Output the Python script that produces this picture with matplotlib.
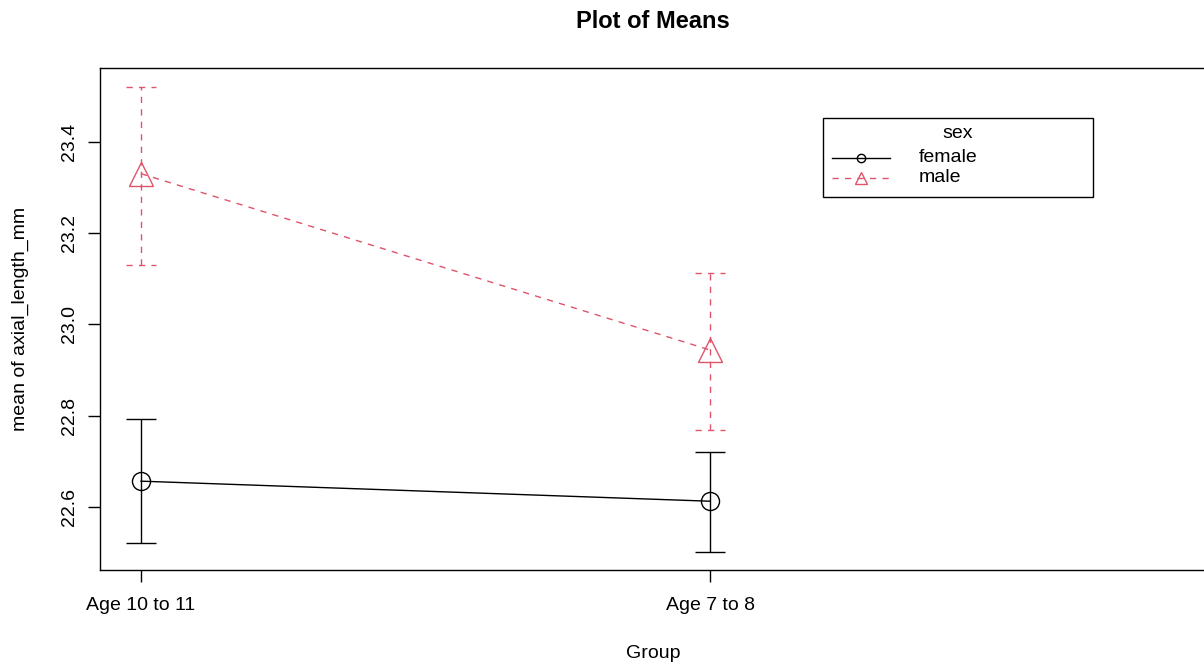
import matplotlib
matplotlib.use('Agg')
import matplotlib.pyplot as plt
from matplotlib.lines import Line2D
from matplotlib.patches import Rectangle
import numpy as np

# Group means of axial length with confidence limits
groups = ['Age 10 to 11', 'Age 7 to 8']
female_mean = [22.656, 22.612]
female_lower = [22.520, 22.501]
female_upper = [22.793, 22.720]
male_mean = [23.331, 22.944]
male_lower = [23.131, 22.768]
male_upper = [23.521, 23.113]

MALE_COLOR = '#DF536B'

plt.rcParams['font.family'] = ['Liberation Sans', 'DejaVu Sans']

W, H = 1204, 664
fig = plt.figure(figsize=(W / 100, H / 100), dpi=100)
ax = fig.add_axes([100 / W, 1 - 570 / H, 1106 / W, 502 / H])

x = np.arange(1, len(groups) + 1)
cap = 0.027
DASH = (0, (4.5, 4.5))

def draw_series(means, lower, upper, color, ls, marker, ms):
    style = DASH if ls == '--' else '-'
    ax.plot(x, means, color=color, linestyle=style, lw=1.0,
            marker=marker, markersize=ms, markerfacecolor='none', markeredgecolor=color,
            markeredgewidth=1.0, zorder=3)
    kw = dict(color=color, lw=1.0, linestyles=style)
    ax.vlines(x, lower, upper, **kw)
    ax.hlines(lower, x - cap, x + cap, **kw)
    ax.hlines(upper, x - cap, x + cap, **kw)

draw_series(female_mean, female_lower, female_upper, 'black', '-', 'o', 13)
draw_series(male_mean, male_lower, male_upper, MALE_COLOR, '--', '^', 17)

ax.set_xlim(1 - 41 / 569, 2 + 496 / 569)
ax.set_ylim(22.461, 23.563)
ax.set_xticks(x)
ax.set_xticklabels(groups)
ax.set_yticks([22.6, 22.8, 23.0, 23.2, 23.4])
ax.set_yticklabels(['22.6', '22.8', '23.0', '23.2', '23.4'], rotation=90, va='center')
ax.tick_params(axis='both', direction='out', length=8.5, width=1.0, labelsize=14)
ax.tick_params(axis='y', pad=7)
ax.tick_params(axis='x', pad=11)
for sp in ax.spines.values():
    sp.set_linewidth(1.0)

fig.text(653 / W, 1 - 21 / H, 'Plot of Means', ha='center', va='center', fontsize=17, fontweight='bold')
fig.text(653 / W, 1 - 653 / H, 'Group', ha='center', va='center', fontsize=14)
fig.text(20 / W, 1 - 319 / H, 'mean of axial_length_mm', ha='center', va='center', fontsize=14, rotation=90)

# Legend box drawn in figure pixels
def fx(px):
    return px / W

def fy(py):
    return 1 - py / H

fig.add_artist(Rectangle((fx(823), fy(197)), fx(1093) - fx(823), fy(118) - fy(197),
                         transform=fig.transFigure, fill=False, edgecolor='black', lw=1.0))
fig.text(fx(958), fy(133), 'sex', ha='center', va='center', fontsize=14)
entries = [('female', 'black', '-', 'o', 6, 158), ('male', MALE_COLOR, '--', '^', 8, 178)]
for label, color, ls, marker, ms, py in entries:
    fig.add_artist(Line2D([fx(832), fx(890)], [fy(py), fy(py)], transform=fig.transFigure,
                          color=color, lw=1.0, linestyle=DASH if ls == '--' else '-'))
    fig.add_artist(Line2D([fx(861)], [fy(py)], transform=fig.transFigure, color=color,
                          marker=marker, markersize=ms, markerfacecolor='none', markeredgewidth=1.0))
    fig.text(fx(919), fy(py), label, ha='left', va='center', fontsize=14)

fig.savefig('out.png', dpi=100)
